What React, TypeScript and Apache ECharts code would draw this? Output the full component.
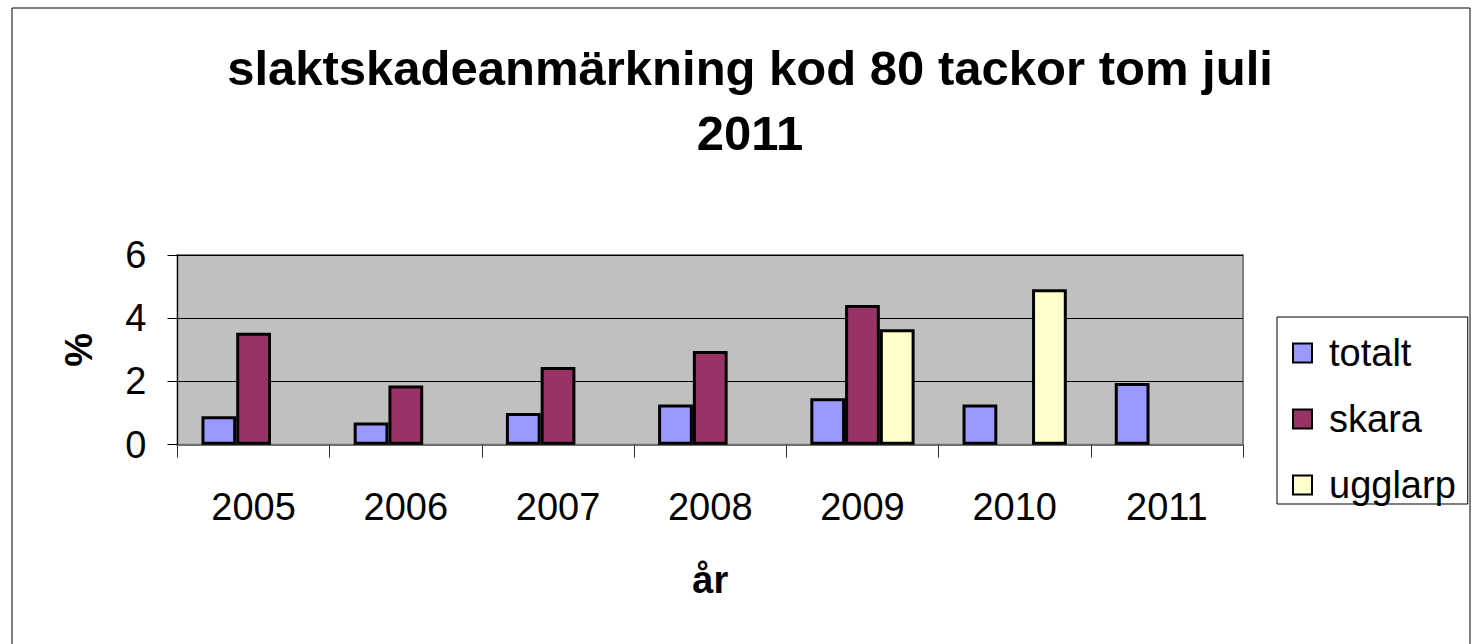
import React, { useEffect, useRef } from "react";
import * as echarts from "echarts";

const years = ["2005", "2006", "2007", "2008", "2009", "2010", "2011"];
const totalt = [0.9, 0.7, 1.0, 1.27, 1.47, 1.27, 1.95];
const skara = [3.54, 1.87, 2.46, 2.96, 4.42, null, null];
const ugglarp = [null, null, null, null, 3.65, 4.92, null];
const yTicks = { min: 0, max: 6, interval: 2 };

const FONT = "'Liberation Sans', Arial, sans-serif";

export default function App() {
  const ref = useRef<HTMLDivElement>(null);
  useEffect(() => {
    if (!ref.current) return;
    const chart = echarts.init(ref.current, null, { renderer: "svg" });
    const barStyle = (color: string) => ({ color, borderColor: "#000", borderWidth: 3 });
    chart.setOption({
      animation: false,
      textStyle: { fontFamily: FONT },
      graphic: [
        {
          type: "rect",
          shape: { x: 12, y: 8, width: 1458, height: 700 },
          style: { fill: "none", stroke: "#000", lineWidth: 1 },
          silent: true,
        },
        {
          type: "text",
          x: 750,
          y: 68,
          style: {
            text: "slaktskadeanmärkning kod 80 tackor tom juli",
            fontFamily: FONT,
            fontSize: 49,
            fontWeight: "bold",
            fill: "#000",
            align: "center",
            verticalAlign: "middle",
          },
        },
        {
          type: "text",
          x: 750,
          y: 133,
          style: {
            text: "2011",
            fontFamily: FONT,
            fontSize: 49,
            fontWeight: "bold",
            fill: "#000",
            align: "center",
            verticalAlign: "middle",
          },
        },
      ],
      grid: {
        left: 177.5,
        top: 255,
        right: 229,
        bottom: 199.3,
        show: true,
        backgroundColor: "#C0C0C0",
        borderColor: "#808080",
        borderWidth: 2,
      },
      legend: {
        orient: "vertical",
        left: 1277,
        top: 317,
        padding: [17, 12, 0, 15],
        itemGap: 28,
        itemWidth: 19,
        itemHeight: 19,
        icon: "rect",
        backgroundColor: "#fff",
        borderColor: "#000",
        borderWidth: 1,
        borderRadius: 0,
        textStyle: { fontSize: 38, color: "#000", fontFamily: FONT, padding: [0, 0, 0, 12] },
        itemStyle: { borderColor: "#000", borderWidth: 2 },
        data: ["totalt", "skara", "ugglarp"],
      },
      xAxis: {
        type: "category",
        data: years,
        name: "år",
        nameLocation: "middle",
        nameGap: 116,
        nameTextStyle: { fontSize: 38, fontWeight: "bold", color: "#000", fontFamily: FONT },
        axisLine: { show: true, lineStyle: { color: "#6e6e6e", width: 2 } },
        axisTick: { show: true, length: 13, alignWithLabel: false, lineStyle: { color: "#333" } },
        axisLabel: { fontSize: 38, color: "#000", margin: 43, fontFamily: FONT },
        splitLine: { show: false },
      },
      yAxis: {
        type: "value",
        min: yTicks.min,
        max: yTicks.max,
        interval: yTicks.interval,
        name: "%",
        nameLocation: "middle",
        nameGap: 80,
        nameRotate: 90,
        nameTextStyle: { fontSize: 38, fontWeight: "bold", color: "#000", fontFamily: FONT },
        axisLine: { show: true, lineStyle: { color: "#000", width: 1 } },
        axisTick: { show: true, length: 10, lineStyle: { color: "#000" } },
        axisLabel: { fontSize: 38, color: "#000", margin: 31, fontFamily: FONT },
        splitLine: { show: true, lineStyle: { color: "#000", width: 1 } },
      },
      series: [
        {
          name: "totalt",
          type: "bar",
          data: totalt,
          barGap: "0%",
          barCategoryGap: "31.5%",
          itemStyle: barStyle("#9999FF"),
        },
        {
          name: "skara",
          type: "bar",
          data: skara,
          barGap: "0%",
          barCategoryGap: "31.5%",
          itemStyle: barStyle("#993366"),
        },
        {
          name: "ugglarp",
          type: "bar",
          data: ugglarp,
          barGap: "0%",
          barCategoryGap: "31.5%",
          itemStyle: barStyle("#FFFFCC"),
        },
      ],
    });
    return () => chart.dispose();
  }, []);
  return (
    <div
      ref={ref}
      style={{ position: "absolute", left: 0, top: 0, width: 1472, height: 644, background: "#fff" }}
    />
  );
}
